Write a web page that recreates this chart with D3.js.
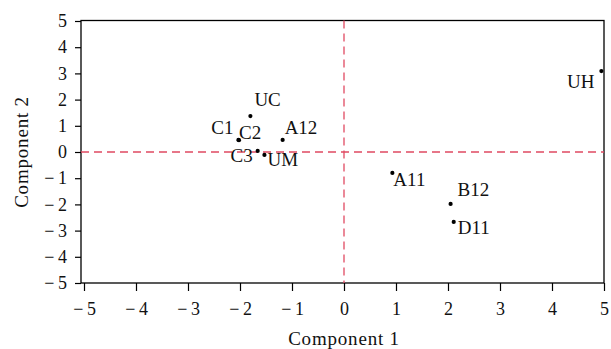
<!DOCTYPE html>
<html>
<head>
<meta charset="utf-8">
<script src="https://cdn.jsdelivr.net/npm/d3@7"></script>
<style>
  body { margin: 0; background: #fff; }
  text { font-family: "Liberation Serif", "Times New Roman", serif; fill: #111; }
</style>
</head>
<body>
<div id="chart"></div>
<script>
// samples and their scores
const names = ["UH", "UC", "C1", "C2", "A12", "C3", "UM", "A11", "B12", "D11"];
const comp1 = [4.95, -1.80, -2.03, -2.02, -1.18, -1.66, -1.53, 0.93, 2.05, 2.11];
const comp2 = [3.09, 1.37, 0.46, 0.45, 0.46, 0.04, -0.11, -0.80, -1.98, -2.67];
const ticks = [-5, -4, -3, -2, -1, 0, 1, 2, 3, 4, 5];

// label placement (anchor, dx, dy) — layout only
const labelStyle = {
  UH: ["end", -7, 17],
  UC: ["start", 4, -10],
  C1: ["end", -5, -6],
  C2: ["start", 0, -1],
  A12: ["start", 2, -6],
  C3: ["end", -5, 11],
  UM: ["start", 3, 11],
  A11: ["start", 1, 13],
  B12: ["start", 7, -8],
  D11: ["start", 4, 12]
};

const W = 611, H = 349;
const box = {left: 81, right: 604, top: 20.5, bottom: 283};

const svg = d3.select("#chart").append("svg")
  .attr("width", W)
  .attr("height", H);

const x = d3.scaleLinear().domain([-5, 5]).range([84, 604]);
const y = d3.scaleLinear().domain([-5, 5]).range([283, 21]);

const fmt = d => d < 0 ? "\u2212\u2009" + Math.abs(d) : String(d);

// frame
svg.append("rect")
  .attr("x", box.left)
  .attr("y", box.top)
  .attr("width", box.right - box.left)
  .attr("height", box.bottom - box.top)
  .attr("fill", "none")
  .attr("stroke", "#000")
  .attr("stroke-width", 1.3);

// reference lines
svg.append("line")
  .attr("x1", box.left).attr("x2", box.right)
  .attr("y1", y(0)).attr("y2", y(0))
  .attr("stroke", "#e04a62")
  .attr("stroke-width", 1.3)
  .attr("stroke-dasharray", "8,5");
svg.append("line")
  .attr("x1", x(0)).attr("x2", x(0))
  .attr("y1", box.top).attr("y2", box.bottom)
  .attr("stroke", "#e04a62")
  .attr("stroke-width", 1.3)
  .attr("stroke-dasharray", "8,5");

// x axis
const xAxis = svg.append("g")
  .attr("transform", `translate(0,${box.bottom})`)
  .call(d3.axisBottom(x).tickValues(ticks).tickFormat(fmt).tickSize(8).tickPadding(11));
xAxis.select(".domain").remove();
xAxis.selectAll("line").attr("stroke", "#000").attr("stroke-width", 1.2);
xAxis.selectAll("text")
  .style("font-family", "Liberation Serif, serif")
  .style("font-size", "18px")
  .attr("fill", "#111");

// y axis
const yAxis = svg.append("g")
  .attr("transform", `translate(${box.left},0)`)
  .call(d3.axisLeft(y).tickValues(ticks).tickFormat(fmt).tickSize(6).tickPadding(8));
yAxis.select(".domain").remove();
yAxis.selectAll("line").attr("stroke", "#000").attr("stroke-width", 1.2);
yAxis.selectAll("text")
  .style("font-family", "Liberation Serif, serif")
  .style("font-size", "18px")
  .attr("fill", "#111");

// axis titles
svg.append("text")
  .attr("x", x(0))
  .attr("y", 345)
  .attr("text-anchor", "middle")
  .style("font-size", "19px")
  .style("letter-spacing", "0.8px")
  .text("Component 1");
svg.append("text")
  .attr("transform", `translate(28,${y(0)}) rotate(-90)`)
  .attr("text-anchor", "middle")
  .style("font-size", "19px")
  .style("letter-spacing", "0.8px")
  .text("Component 2");

// points
const pts = names.map((n, i) => ({name: n, c1: comp1[i], c2: comp2[i]}));
const g = svg.append("g");
g.selectAll("circle")
  .data(pts)
  .enter()
  .append("circle")
  .attr("cx", d => x(d.c1))
  .attr("cy", d => y(d.c2))
  .attr("r", 2.1)
  .attr("fill", "#000");

g.selectAll("text")
  .data(pts)
  .enter()
  .append("text")
  .attr("x", d => x(d.c1) + labelStyle[d.name][1])
  .attr("y", d => y(d.c2) + labelStyle[d.name][2])
  .attr("text-anchor", d => labelStyle[d.name][0])
  .style("font-size", "19px")
  .text(d => d.name);
</script>
</body>
</html>
